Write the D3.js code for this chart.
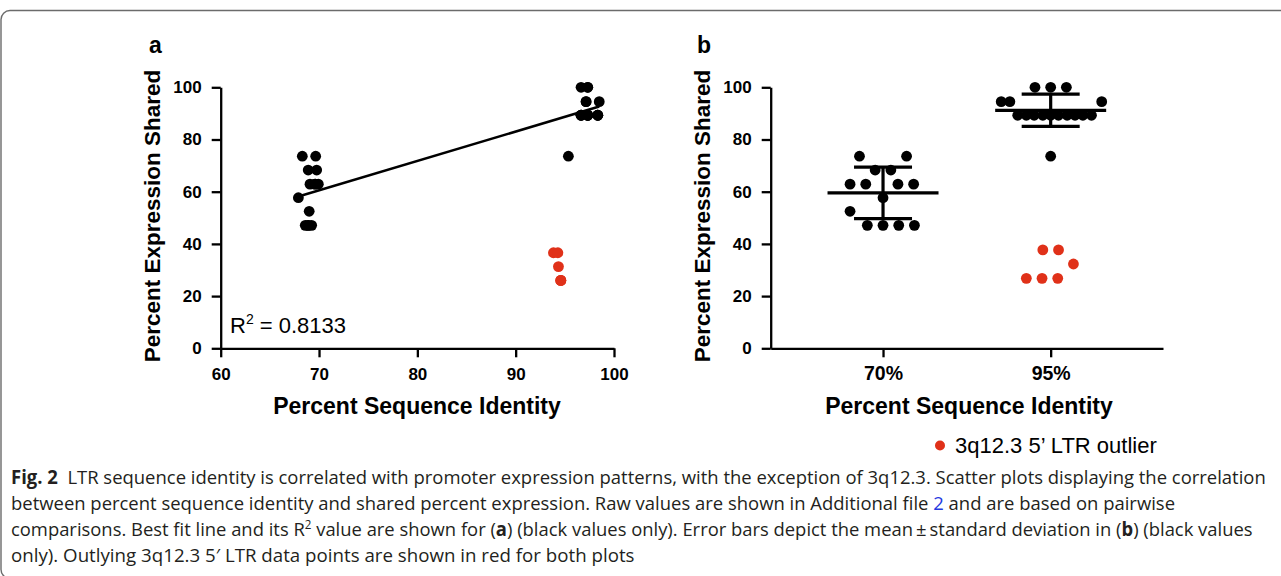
<!DOCTYPE html>
<meta charset="utf-8">
<style>
body { margin: 0; background: #fff; }
svg { display: block; }
.axis path, .axis line { stroke: #000; stroke-width: 2.3px; }
.axis text { font-family: "Liberation Sans", Arial, sans-serif; font-weight: bold; fill: #000; }
.title { font-family: "Liberation Sans", Arial, sans-serif; font-weight: bold; fill: #000; }
.caption { font-family: "Open Sans", sans-serif; font-size: 19px; fill: #231f20; }
</style>
<svg width="1281" height="576"></svg>
<script src="https://d3js.org/d3.v7.min.js"></script>
<script>

// ---- data ----
var yTicks = [0, 20, 40, 60, 80, 100];
var xTicksA = [60, 70, 80, 90, 100];
var groupsB = ["70%", "95%"];

// panel a, black points (percent identity, percent shared)
var aBlackX = [68.3, 69.66, 68.9, 69.76, 69.08, 69.6, 69.6, 69.93, 67.9, 69.0, 68.6, 68.9, 68.9, 69.25,
               96.65, 97.33, 97.33, 97.16, 97.16, 98.5,
               96.65, 96.65, 96.65, 97.33, 97.33, 97.33, 97.33, 98.35, 98.35, 98.35, 95.36];
var aBlackY = [73.6, 73.6, 68.3, 68.3, 62.9, 62.9, 62.9, 62.9, 57.7, 52.5, 47.1, 47.1, 47.1, 47.1,
               100, 100, 100, 94.5, 94.5, 94.5,
               89.3, 89.3, 89.3, 89.3, 89.3, 89.3, 89.3, 89.3, 89.3, 89.3, 73.6];
// panel a, 3q12.3 outliers
var aRedX = [93.84, 94.29, 94.35, 94.59, 94.59, 94.59];
var aRedY = [36.6, 36.6, 31.3, 26.0, 26.0, 26.0];
var r2Text = "0.8133";

// panel b, values per group and the column slot of each dot in the scatter
var b70 = [73.6, 73.6, 68.3, 68.3, 62.9, 62.9, 62.9, 62.9, 57.7, 52.5, 47.1, 47.1, 47.1, 47.1];
var b70Slot = [-3, 3, -1, 1, -4.2, -2.2, 1.9, 3.9, 0, -4.2, -2, 0, 2, 4];
var b95 = [100, 100, 100, 94.5, 94.5, 94.5,
           89.3, 89.3, 89.3, 89.3, 89.3, 89.3, 89.3, 89.3, 89.3, 89.3, 73.6];
var b95Slot = [-2, 0, 2, -6.3, -5.2, 6.5,
               -4.2, -3.1, -2.1, -1.0, 0, 1.0, 2.1, 3.1, 4.1, 5.2, 0];
var b95Red = [37.7, 37.7, 32.3, 26.8, 26.8, 26.8];
var b95RedSlot = [-1, 1, 2.9, -3.1, -1.1, 0.9];

var legendLabel = "3q12.3 5\u2019 LTR outlier";

var red = "#e03119";
var dotR = 5.4;

var svg = d3.select("svg");

// frame round the figure (bottom and right edges fall off the page)
svg.append("rect")
    .attr("x", 1).attr("y", 10.5)
    .attr("width", 1320).attr("height", 568)
    .attr("rx", 9)
    .attr("fill", "none")
    .attr("stroke", "#6b6b6b")
    .attr("stroke-width", 1.4);

// ---------------- panel a ----------------
var xA = d3.scaleLinear().domain([60, 100]).range([220.7, 614]);
var yS = d3.scaleLinear().domain([0, 100]).range([348.3, 87.3]);

var ga = svg.append("g");

ga.append("g").attr("class", "axis")
    .attr("transform", "translate(0," + yS(0) + ")")
    .call(d3.axisBottom(xA).tickValues(xTicksA).tickSize(9).tickSizeOuter(0).tickPadding(10.5))
    .selectAll("text").style("font-size", "17px");

ga.append("g").attr("class", "axis")
    .attr("transform", "translate(" + xA(60) + ",0)")
    .call(d3.axisLeft(yS).tickValues(yTicks).tickSize(9).tickSizeOuter(0).tickPadding(10))
    .selectAll("text").style("font-size", "17px");

// least squares fit on the black values
var mx = d3.mean(aBlackX), my = d3.mean(aBlackY);
var sxy = d3.sum(aBlackX, function(d, i) { return (d - mx) * (aBlackY[i] - my); });
var sxx = d3.sum(aBlackX, function(d) { return (d - mx) * (d - mx); });
var slope = sxy / sxx, icpt = my - slope * mx;
var fitX = d3.extent(aBlackX);

ga.selectAll("circle.black")
    .data(aBlackX)
    .enter().append("circle")
      .attr("class", "black")
      .attr("cx", function(d) { return xA(d); })
      .attr("cy", function(d, i) { return yS(aBlackY[i]); })
      .attr("r", dotR)
      .attr("fill", "#000");

ga.selectAll("circle.red")
    .data(aRedX)
    .enter().append("circle")
      .attr("class", "red")
      .attr("cx", function(d) { return xA(d); })
      .attr("cy", function(d, i) { return yS(aRedY[i]); })
      .attr("r", dotR)
      .attr("fill", red);

ga.append("line")
    .attr("x1", xA(fitX[0])).attr("y1", yS(icpt + slope * fitX[0]))
    .attr("x2", xA(fitX[1])).attr("y2", yS(icpt + slope * fitX[1]))
    .attr("stroke", "#000").attr("stroke-width", 2.6);

var r2 = ga.append("text")
    .attr("x", 230).attr("y", 333)
    .style("font-family", "'Liberation Sans', Arial, sans-serif")
    .style("font-size", "22px");
r2.append("tspan").text("R");
r2.append("tspan").attr("dy", -9).style("font-size", "14px").text("2");
r2.append("tspan").attr("dy", 9).text(" = " + r2Text);

ga.append("text").attr("class", "title")
    .attr("x", 149).attr("y", 53)
    .style("font-size", "23px").text("a");

ga.append("text").attr("class", "title")
    .attr("text-anchor", "middle")
    .attr("x", 417).attr("y", 413.5)
    .style("font-size", "23px")
    .text("Percent Sequence Identity");

ga.append("text").attr("class", "title")
    .attr("text-anchor", "middle")
    .attr("transform", "translate(159.5,216) rotate(-90)")
    .style("font-size", "22.5px")
    .text("Percent Expression Shared");

// ---------------- panel b ----------------
var xB = d3.scalePoint().domain(groupsB).range([770.7, 1163]).padding(0.67);
var slot = d3.scaleLinear().domain([-1, 1]).range([-7.85, 7.85]);

var gb = svg.append("g");

gb.append("g").attr("class", "axis")
    .attr("transform", "translate(0," + yS(0) + ")")
    .call(d3.axisBottom(xB).tickSize(9).tickSizeOuter(0).tickPadding(9))
    .selectAll("text").style("font-size", "19.5px");

gb.append("g").attr("class", "axis")
    .attr("transform", "translate(770.7,0)")
    .call(d3.axisLeft(yS).tickValues(yTicks).tickSize(9).tickSizeOuter(0).tickPadding(10))
    .selectAll("text").style("font-size", "17px");

var sets = [
  { g: "70%", vals: b70, slots: b70Slot, col: "#000" },
  { g: "95%", vals: b95, slots: b95Slot, col: "#000" },
  { g: "95%", vals: b95Red, slots: b95RedSlot, col: red }
];

sets.forEach(function(s) {
  gb.selectAll(null)
      .data(s.vals)
      .enter().append("circle")
        .attr("cx", function(d, i) { return xB(s.g) + slot(s.slots[i]); })
        .attr("cy", function(d) { return yS(d); })
        .attr("r", dotR)
        .attr("fill", s.col);
});

// mean +/- SD of black values
[{ g: "70%", vals: b70 }, { g: "95%", vals: b95 }].forEach(function(s) {
  var m = d3.mean(s.vals), sd = d3.deviation(s.vals), cx = xB(s.g);
  var bar = gb.append("g").attr("stroke", "#000").attr("stroke-width", 3.2);
  bar.append("line").attr("x1", cx - 55.5).attr("x2", cx + 55.5).attr("y1", yS(m)).attr("y2", yS(m));
  bar.append("line").attr("x1", cx).attr("x2", cx).attr("y1", yS(m - sd)).attr("y2", yS(m + sd));
  [m - sd, m + sd].forEach(function(v) {
    bar.append("line").attr("x1", cx - 29).attr("x2", cx + 29).attr("y1", yS(v)).attr("y2", yS(v));
  });
});

gb.append("text").attr("class", "title")
    .attr("x", 697).attr("y", 53)
    .style("font-size", "23px").text("b");

gb.append("text").attr("class", "title")
    .attr("text-anchor", "middle")
    .attr("x", 969).attr("y", 413.5)
    .style("font-size", "23px")
    .text("Percent Sequence Identity");

gb.append("text").attr("class", "title")
    .attr("text-anchor", "middle")
    .attr("transform", "translate(709.5,216) rotate(-90)")
    .style("font-size", "22.5px")
    .text("Percent Expression Shared");

// legend
svg.append("circle").attr("cx", 940).attr("cy", 445.5).attr("r", 5).attr("fill", red);
svg.append("text")
    .attr("x", 955).attr("y", 453)
    .style("font-family", "'Liberation Sans', Arial, sans-serif")
    .style("font-size", "22px")
    .text(legendLabel);

// ---------------- caption ----------------
// each line: list of [text, style] pieces, baseline and width measured off the figure
var captionLines = [
  { y: 484, w: 1256, parts: [["Fig. 2", "b"], ["\u00a0 LTR sequence identity is correlated with promoter expression patterns, with the exception of 3q12.3. Scatter plots displaying the correlation", ""]] },
  { y: 510, w: 1165, parts: [["between percent sequence identity and shared percent expression. Raw values are shown in Additional file ", ""], ["2", "link"], [" and are based on pairwise", ""]] },
  { y: 536, w: 1243, parts: [["comparisons. Best fit line and its R", ""], ["2", "sup"], [" value are shown for (", ""], ["a", "b"], [") (black values only). Error bars depict the mean\u2009\u00b1\u2009standard deviation in (", ""], ["b", "b"], [") (black values", ""]] },
  { y: 561.5, w: 624, parts: [["only). Outlying 3q12.3 5\u2032 LTR data points are shown in red for both plots", ""]] }
];

captionLines.forEach(function(line) {
  var t = svg.append("text").attr("class", "caption");
  var shifted = false;
  line.parts.forEach(function(p) {
    var ts = t.append("tspan").text(p[0]);
    if (shifted) { ts.attr("dy", 7); shifted = false; }
    if (p[1] === "b") ts.style("font-weight", "bold");
    if (p[1] === "link") ts.style("fill", "#2438e0");
    if (p[1] === "sup") { ts.attr("dy", -7).style("font-size", "12px"); shifted = true; }
  });
  var w = t.node().getBBox().width;
  t.attr("transform", "translate(11," + line.y + ") scale(" + (line.w / w) + ",1)");
});

</script>
